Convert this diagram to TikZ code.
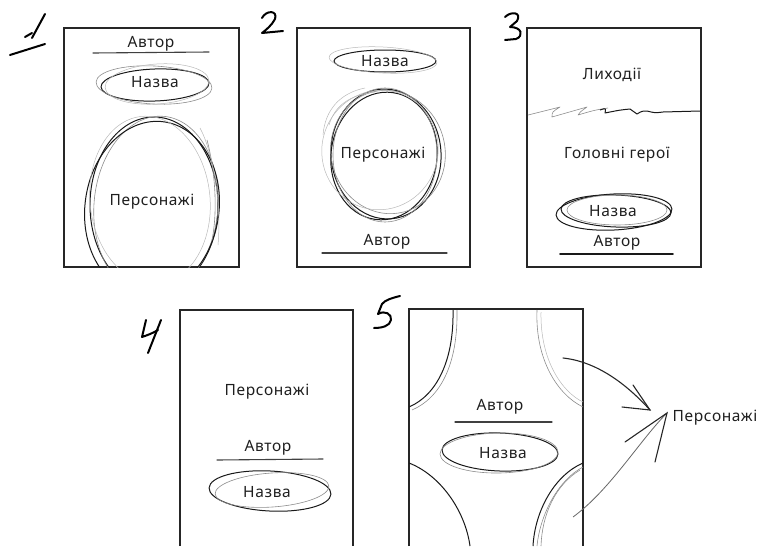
\documentclass[tikz,border=0pt]{standalone}
\usepackage{fontspec}
\setmainfont[LetterSpace=4]{Noto Sans}
\begin{document}
\begin{tikzpicture}[x=1pt,y=-1pt,
  page/.style={line width=1.5pt,draw=black!85},
  ink/.style={line width=1pt,draw=black!90},
  pencil/.style={line width=0.6pt,draw=black!45},
  faint/.style={line width=0.5pt,draw=black!28},
  rule/.style={line width=1.1pt,draw=black!75,line cap=round},
  digit/.style={line width=2pt,draw=black,line cap=round,line join=round},
  lbl/.style={font=\fontsize{15.5}{18}\selectfont,text=black!88,inner sep=0pt},
  arrowline/.style={line width=1.1pt,draw=black!85,line cap=round}]
\useasboundingbox (0,0) rectangle (760,546);

% ---------- sheet 1 ----------
\draw[digit] (45,14) -- (32,38);
\draw[digit] (25,37) -- (32,33);
\draw[digit] (10,55) -- (45,44);
\draw[page] (64,28) rectangle (239,267);
\node[lbl] (a1) at (151,44) {Автор};
\draw[rule] (93,53) -- (209,52);
\draw[ink] (155,85) ellipse [x radius=54,y radius=16,rotate=2];
\draw[pencil] (154,85) ellipse [x radius=58,y radius=19,rotate=-3];
\draw[faint] (157,84) ellipse [x radius=52,y radius=20,rotate=4];
\node[lbl] (n1) at (155,82) {Назва};
\begin{scope}
  \clip (64,28) rectangle (239,267);
  \draw[ink] (154,205) ellipse [x radius=64,y radius=88];
  \draw[pencil] (156,206) ellipse [x radius=62,y radius=90,rotate=-5];
  \draw[ink] (152,208) ellipse [x radius=67,y radius=87,rotate=-8];
  \draw[faint] (150,200) ellipse [x radius=60,y radius=84,rotate=6];
  \draw[pencil] (207,140) .. controls (215,170) and (218,210) .. (212,240);
  \draw[faint] (200,128) .. controls (212,150) and (222,200) .. (218,245);
\end{scope}
\node[lbl] (p1) at (152,202) {Персонажі};

% ---------- sheet 2 ----------
\draw[digit] (262,18) .. controls (266,10) and (278,10) .. (275,19)
  .. controls (272,25) and (266,30) .. (262,33) -- (283,31);
\draw[page] (297,28) rectangle (470,267);
\draw[ink] (385,61) ellipse [x radius=51,y radius=11];
\draw[faint] (383,60) ellipse [x radius=54,y radius=13,rotate=-3];
\node[lbl] (n2) at (385,61) {Назва};
\draw[ink] (386,154) ellipse [x radius=55,y radius=65,rotate=5];
\draw[ink] (384,156) ellipse [x radius=53,y radius=64,rotate=-8];
\draw[pencil] (388,152) ellipse [x radius=57,y radius=62,rotate=15];
\draw[pencil] (385,155) ellipse [x radius=52,y radius=67];
\draw[faint] (380,150) ellipse [x radius=58,y radius=60,rotate=-20];
\draw[faint] (323,135) .. controls (325,110) and (340,93) .. (365,88);
\draw[faint] (329,125) .. controls (335,105) and (350,95) .. (375,92);
\node[lbl] (p2) at (383,155) {Персонажі};
\node[lbl] (a2) at (387,242) {Автор};
\draw[rule] (322,253) -- (447,253);

% ---------- sheet 3 ----------
\draw[digit] (505,17) .. controls (511,11) and (522,12) .. (517,21)
  -- (510,27) .. controls (522,27) and (524,36) .. (516,39) -- (505,40);
\draw[page] (527,28) rectangle (701,267);
\node[lbl] (v3) at (612,75) {Лиходії};
\draw[pencil,line join=round] (528,115) .. controls (540,112) .. (560,107)
  .. controls (552,112) .. (552,117) .. controls (570,112) .. (587,107)
  .. controls (580,112) .. (578,115) .. controls (595,110) .. (608,108);
\draw[ink,line join=round] (600,110) .. controls (606,108) .. (605,113)
  .. controls (620,110) .. (630,109) .. controls (634,112) .. (637,114)
  .. controls (642,111) .. (647,111) .. controls (655,113) .. (663,112) -- (700,111);
\node[lbl] (h3) at (617,155) {Головні герої};
\draw[ink] (616,211) ellipse [x radius=55,y radius=16,rotate=-2];
\draw[ink] (614,212) ellipse [x radius=58,y radius=18,rotate=3];
\draw[pencil] (617,210) ellipse [x radius=50,y radius=15];
\node[lbl] (n3) at (613,211) {Назва};
\node[lbl] (a3) at (617,243) {Автор};
\draw[rule,line width=1.6pt,draw=black!90] (560,254) -- (673,254);

% ---------- sheet 4 ----------
\draw[digit] (146,320) -- (142,337) .. controls (148,335) and (153,333) .. (158,330);
\draw[digit] (161,320) -- (148,353);
\draw[page] (180,546) -- (180,310) -- (353,310) -- (353,546);
\node[lbl] (p4) at (267,392) {Персонажі};
\node[lbl] (a4) at (268,448) {Автор};
\draw[rule] (217,460) -- (323,459);
\draw[ink] (270,491) ellipse [x radius=61,y radius=20,rotate=-3];
\draw[pencil] (272,490) ellipse [x radius=57,y radius=17,rotate=4];
\node[lbl] (n4) at (267,492) {Назва};

% ---------- sheet 5 ----------
\draw[digit] (400,296) .. controls (392,298) and (385,300) .. (382,304) -- (378,314)
  .. controls (385,310) and (392,314) .. (391,320) .. controls (390,326) and (382,328) .. (374,328);
\draw[page] (409,546) -- (409,309) -- (583,309) -- (583,546);
\begin{scope}
  \clip (409,309) rectangle (583,546);
  \draw[ink] (453,310) .. controls (454,360) and (437,395) .. (409,407);
  \draw[pencil] (457,310) .. controls (458,365) and (440,398) .. (412,410);
  \draw[pencil] (537,310) .. controls (535,360) and (558,395) .. (583,407);
  \draw[faint] (541,312) .. controls (540,360) and (562,392) .. (583,402);
  \draw[ink] (409,463) .. controls (440,475) and (465,510) .. (470,546);
  \draw[ink] (583,463) .. controls (555,475) and (535,510) .. (533,546);
  \draw[pencil] (583,467) .. controls (558,480) and (540,515) .. (537,546);
  \draw[pencil] (580,470) .. controls (555,485) and (542,515) .. (541,546);
\end{scope}
\node[lbl] (a5) at (500,407) {Автор};
\draw[rule] (455,422) -- (552,422);
\draw[ink] (500,452) ellipse [x radius=58,y radius=19,rotate=-2];
\draw[pencil] (499,453) ellipse [x radius=59,y radius=20,rotate=1];
\node[lbl] (n5) at (503,453) {Назва};

% ---------- arrows towards the side label ----------
\node[lbl] (ps) at (715,418) {Персонажі};
\coordinate (t1) at (650,410);
\coordinate (t2) at (667,413);
\coordinate (s1) at (563,358);
\coordinate (s2) at (573,517);
\draw[arrowline] (s1) .. controls (600,362) and (630,388) .. (t1);
\draw[arrowline] (633,385) -- (t1) -- (622,407);
\draw[pencil,line width=0.8pt,draw=black!60] (s2) .. controls (610,490) and (640,440) .. (t2);
\draw[arrowline] (625,442) -- (t2) -- (655,462);
\end{tikzpicture}
\end{document}
